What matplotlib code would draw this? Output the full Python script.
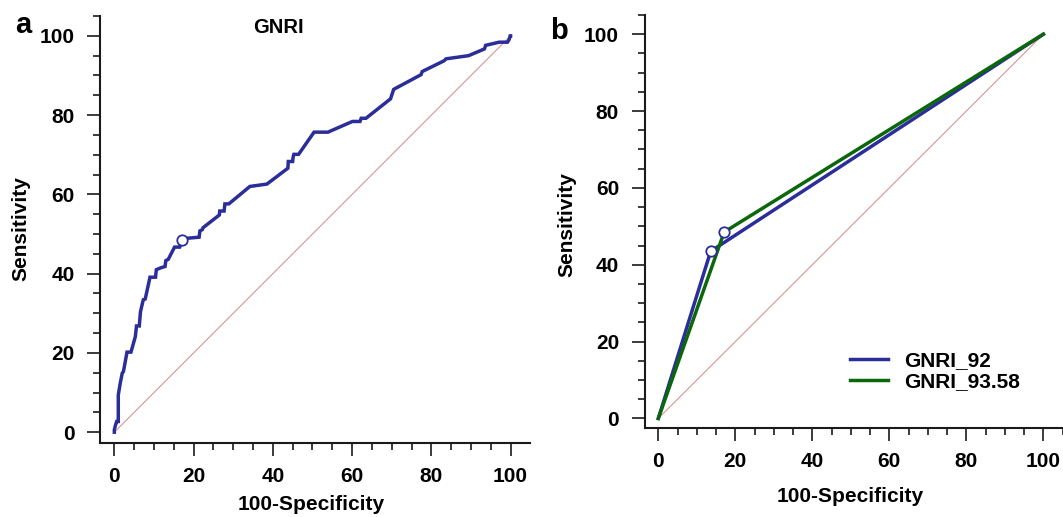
import matplotlib
matplotlib.use("Agg")
import matplotlib.pyplot as plt
from matplotlib.ticker import MultipleLocator

plt.rcParams['font.family'] = ['Liberation Sans', 'DejaVu Sans']
plt.rcParams['font.weight'] = 'bold'

# ---- Panel a data (GNRI ROC curve) ----
fpr_a = [0, 0.0, 0.3, 0.6, 1.0, 1.0, 1.5, 2.0, 2.3, 3.2, 4.2, 5.3, 5.6, 6.3, 6.6, 7.3, 7.8, 9.0, 10.4, 10.6,
         11.8, 12.8, 13.0, 13.6, 15.2, 16.5, 17.1, 18.1, 21.4, 21.6, 22.2, 22.4, 26.5, 26.6, 27.7, 27.9, 28.9,
         34.2, 38.5, 43.8, 43.9, 45.0, 45.1, 45.3, 46.5, 50.4, 53.9, 60.1, 62.0, 62.3, 63.5, 69.7, 70.1, 70.5,
         77.4, 77.7, 83.2, 83.7, 89.4, 93.4, 93.7, 97.1, 99.2, 99.6, 99.9, 100]
tpr_a = [0, 0.6, 1.8, 2.7, 2.7, 9.4, 12.4, 14.9, 15.3, 20.2, 20.2, 24.1, 26.8, 26.8, 30.4, 33.4, 33.6, 39.1, 39.1, 41.0,
         41.5, 41.8, 43.3, 43.6, 46.7, 46.7, 48.5, 48.9, 49.2, 50.8, 51.1, 51.6, 54.8, 55.8, 55.8, 57.6, 57.6,
         62.0, 62.6, 66.6, 68.3, 68.3, 69.3, 70.1, 70.1, 75.7, 75.7, 78.4, 78.4, 79.2, 79.2, 84.1, 85.3, 86.5,
         90.2, 91.0, 93.7, 94.2, 95.0, 96.7, 97.6, 98.4, 98.4, 99.0, 100, 100]
cut_a = (17.1, 48.5)
title_a = "GNRI"

# ---- Panel b data ----
labels_b = ["GNRI_92", "GNRI_93.58"]
fpr_b92 = [0, 13.6, 100]
tpr_b92 = [0, 43.5, 100]
fpr_b93 = [0, 17.1, 100]
tpr_b93 = [0, 48.5, 100]
cut_b = [(13.6, 43.5), (17.1, 48.5)]

ticks = [0, 20, 40, 60, 80, 100]

BLUE = '#2b2e98'
GREEN = '#0a680a'
DIAG = '#d99595'
SPINE = '#1a1a1a'

fig = plt.figure(figsize=(10.63, 5.17), dpi=100)

def style(ax):
    for s in ['top', 'right']:
        ax.spines[s].set_visible(False)
    for s in ['left', 'bottom']:
        ax.spines[s].set_linewidth(1.5)
        ax.spines[s].set_color(SPINE)
    ax.set_xticks(ticks)
    ax.set_yticks(ticks)
    ax.xaxis.set_minor_locator(MultipleLocator(5))
    ax.yaxis.set_minor_locator(MultipleLocator(5))
    ax.tick_params(which='major', length=9.2, width=1.2, color=SPINE, direction='out', labelsize=15)
    ax.tick_params(which='minor', length=4.8, width=1.2, color=SPINE, direction='out')
    ax.tick_params(axis='x', which='major', pad=8)
    ax.tick_params(axis='y', which='major', pad=9.5)
    for lab in ax.get_xticklabels() + ax.get_yticklabels():
        lab.set_fontweight('bold')

# Panel a
axa = fig.add_axes([0.0945, 0.1426, 0.4986 - 0.0945, 0.969 - 0.1426])
axa.plot([0, 100], [0, 100], color=DIAG, lw=0.8, zorder=1)
axa.plot(fpr_a, tpr_a, color=BLUE, lw=2.5, zorder=2, solid_joinstyle='miter')
axa.plot([cut_a[0]], [cut_a[1]], 'o', ms=7.5, mfc='white', mec=BLUE, mew=1.3, zorder=3)
axa.set_xlim(-3.5, 104.9)
axa.set_ylim(-2.8, 105)
style(axa)
axa.text(41.3, 102.2, title_a, ha='center', va='center', fontsize=14.5, fontweight='bold')
axa.set_xlabel("100-Specificity", fontsize=15, fontweight='bold', va='center')
axa.set_ylabel("Sensitivity", fontsize=15, fontweight='bold', va='center')
axa.xaxis.set_label_coords(0.491, -0.1444)
axa.yaxis.set_label_coords(-0.186, 0.5015)

# Panel b
axb = fig.add_axes([0.6068, 0.1721, 1.0 - 0.6068, 0.971 - 0.1721])
axb.plot([0, 100], [0, 100], color=DIAG, lw=0.8, zorder=1)
axb.plot(fpr_b92, tpr_b92, color=BLUE, lw=2.5, zorder=2, label=labels_b[0])
axb.plot(fpr_b93, tpr_b93, color=GREEN, lw=2.5, zorder=2, label=labels_b[1])
for (cx, cy) in cut_b:
    axb.plot([cx], [cy], 'o', ms=7.5, mfc='white', mec=BLUE, mew=1.3, zorder=3)
axb.set_xlim(-3.45, 105.1)
axb.set_ylim(-2.5, 105)
style(axb)
axb.set_xlabel("100-Specificity", fontsize=15, fontweight='bold', va='center')
axb.set_ylabel("Sensitivity", fontsize=15, fontweight='bold', va='center')
axb.xaxis.set_label_coords(0.492, -0.165)
axb.yaxis.set_label_coords(-0.187, 0.4915)
leg = axb.legend(loc='upper left', bbox_to_anchor=(0.455, 0.222), frameon=False,
                 prop={'size': 15, 'weight': 'bold'}, handlelength=1.85, handletextpad=0.75,
                 labelspacing=0.1, borderpad=0.2)

fig.text(22.8 / 1063, 1 - 33.3 / 517, "a", fontsize=21, fontweight='bold', ha='center', va='baseline')
fig.text(559 / 1063, 1 - 39.3 / 517, "b", fontsize=21, fontweight='bold', ha='center', va='baseline')

fig.savefig("out.png", dpi=100)
